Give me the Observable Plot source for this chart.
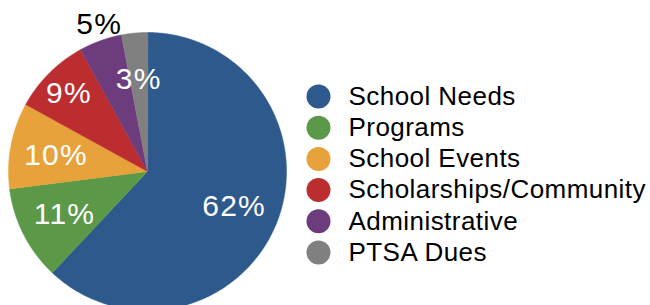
<!DOCTYPE html>
<html>
<head>
<meta charset="utf-8">
<script src="https://cdn.jsdelivr.net/npm/d3@7"></script>
<script src="https://cdn.jsdelivr.net/npm/@observablehq/plot@0.6"></script>
<style>
  html, body { margin: 0; padding: 0; background: #fff; }
  svg { font-family: "Liberation Sans", Arial, Helvetica, sans-serif; }
</style>
</head>
<body>
<div id="chart"></div>
<script>
const categories = ["School Needs", "Programs", "School Events", "Scholarships/Community", "Administrative", "PTSA Dues"];
const values = [62, 11, 10, 9, 5, 3];
const colors = ["#2e598c", "#5b9848", "#e8a23c", "#bc2d30", "#6c3c7d", "#808080"];

const W = 650, H = 305;
const cx = 147, cy = 171, R = 139;

const pie = d3.pie().sort(null).value(d => d.value)(categories.map((c, i) => ({category: c, value: values[i]})));

// polygon vertices for each slice, in unit-circle coordinates
const slicePts = [];
for (const s of pie) {
  const n = Math.max(2, Math.ceil((s.endAngle - s.startAngle) / 0.01));
  slicePts.push({category: s.data.category, x: 0, y: 0});
  for (let k = 0; k <= n; k++) {
    const a = s.startAngle + (s.endAngle - s.startAngle) * k / n;
    slicePts.push({category: s.data.category, x: Math.sin(a), y: Math.cos(a)});
  }
}

// label placement: outside for the narrow Administrative slice
const labelRadius = d => d.data.value === 5 ? 1.12 : d.data.value === 9 ? 0.8 : 0.67;
const labels = pie.map(s => {
  const a = (s.startAngle + s.endAngle) / 2 + (s.data.value === 5 ? 0.03 : 0);
  const r = labelRadius(s);
  return {text: s.data.value + "%", x: r * Math.sin(a), y: r * Math.cos(a), outside: r > 1};
});

const legend = categories.map((c, i) => ({category: c, i}));
const px = v => (v - cx) / R;           // pixel x -> unit
const py = v => (cy - v) / R;           // pixel y -> unit
const rowY = i => py(96 + i * 31.2);

const chart = Plot.plot({
  width: W, height: H,
  marginTop: 0, marginBottom: 0, marginLeft: 0, marginRight: 0,
  x: {domain: [-1, 1], range: [cx - R, cx + R], axis: null},
  y: {domain: [-1, 1], range: [cy + R, cy - R], axis: null},
  color: {domain: categories, range: colors},
  marks: [
    Plot.line(slicePts, {x: "x", y: "y", z: "category", fill: "category", stroke: "category", strokeWidth: 0.5, curve: "linear-closed"}),
    Plot.text(labels, {x: "x", y: "y", text: "text", fill: d => d.outside ? "#000" : "#fff", fontSize: 30, textAnchor: "middle", dy: 1, className: "pct"}),
    Plot.dot(legend, {x: () => px(318), y: d => rowY(d.i), r: 12, fill: "category"}),
    Plot.text(legend, {x: () => px(348), y: d => rowY(d.i), text: "category", fill: "#000", fontSize: 26, textAnchor: "start", className: "leg"})
  ]
});
chart.querySelectorAll(".pct text").forEach(t => t.style.letterSpacing = "1.2px");
chart.querySelectorAll(".leg text").forEach(t => t.style.letterSpacing = "0.45px");
document.getElementById("chart").appendChild(chart);
</script>
</body>
</html>
